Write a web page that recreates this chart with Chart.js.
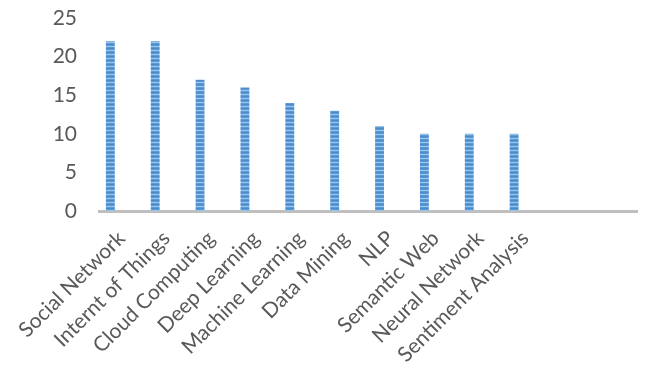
<!DOCTYPE html>
<html>
<head>
<meta charset="utf-8">
<script src="https://cdn.jsdelivr.net/npm/chart.js@4/dist/chart.umd.min.js"></script>
<style>
  html, body { margin: 0; padding: 0; background: #fff; }
  #wrap { width: 648px; height: 378px; }
</style>
</head>
<body>
<div id="wrap"><canvas id="grafico" width="648" height="378"></canvas></div>
<script>
// datos
const temas = ["Social Network", "Internt of Things", "Cloud Computing", "Deep Learning",
  "Machine Learning", "Data Mining", "NLP", "Semantic Web", "Neural Network",
  "Sentiment Analysis", "", ""];
const articulos = [22, 22, 17, 16, 14, 13, 11, 10, 10, 10, null, null];
const vacio = [null, null, null, null, null, null, null, null, null, null, null, null];
const ticksY = [0, 5, 10, 15, 20, 25];

// patron de rayas horizontales para las barras
function rayas() {
  const c = document.createElement('canvas');
  c.width = 4; c.height = 4;
  const g = c.getContext('2d');
  g.fillStyle = '#5b9bd5'; g.fillRect(0, 0, 4, 4);
  g.fillStyle = '#9cc3e8'; g.fillRect(0, 2, 4, 1);
  g.fillStyle = '#4a8bcd'; g.fillRect(0, 0, 4, 1);
  return g.createPattern(c, 'repeat');
}

const ctx = document.getElementById('grafico').getContext('2d');
new Chart(ctx, {
  type: 'bar',
  data: {
    labels: temas,
    datasets: [
      { data: articulos, backgroundColor: rayas(), borderWidth: 0,
        categoryPercentage: 0.99, barPercentage: 0.4 },
      { data: vacio, backgroundColor: 'rgba(0,0,0,0)', borderWidth: 0,
        categoryPercentage: 0.99, barPercentage: 0.4 }
    ]
  },
  options: {
    responsive: false,
    animation: false,
    layout: { padding: { left: 0, right: 5, top: 18, bottom: 0 } },
    plugins: { legend: { display: false }, tooltip: { enabled: false } },
    scales: {
      x: {
        grid: { display: false, drawTicks: false },
        border: { color: '#bfbfbf', width: 3 },
        ticks: {
          color: '#595959', font: { family: 'Lato', size: 21 },
          minRotation: 45, maxRotation: 45, autoSkip: false, padding: 15
        },
        afterFit: s => { s.height = 167; }
      },
      y: {
        min: 0, max: 25,
        grid: { display: false, drawTicks: false },
        border: { display: false },
        afterBuildTicks: s => { s.ticks = ticksY.map(v => ({ value: v })); },
        ticks: { color: '#595959', font: { family: 'Lato', size: 21 }, padding: 22 },
        afterFit: s => { s.width = 99; s.paddingTop = 0; s.paddingBottom = 0; }
      }
    }
  }
});
</script>
</body>
</html>
